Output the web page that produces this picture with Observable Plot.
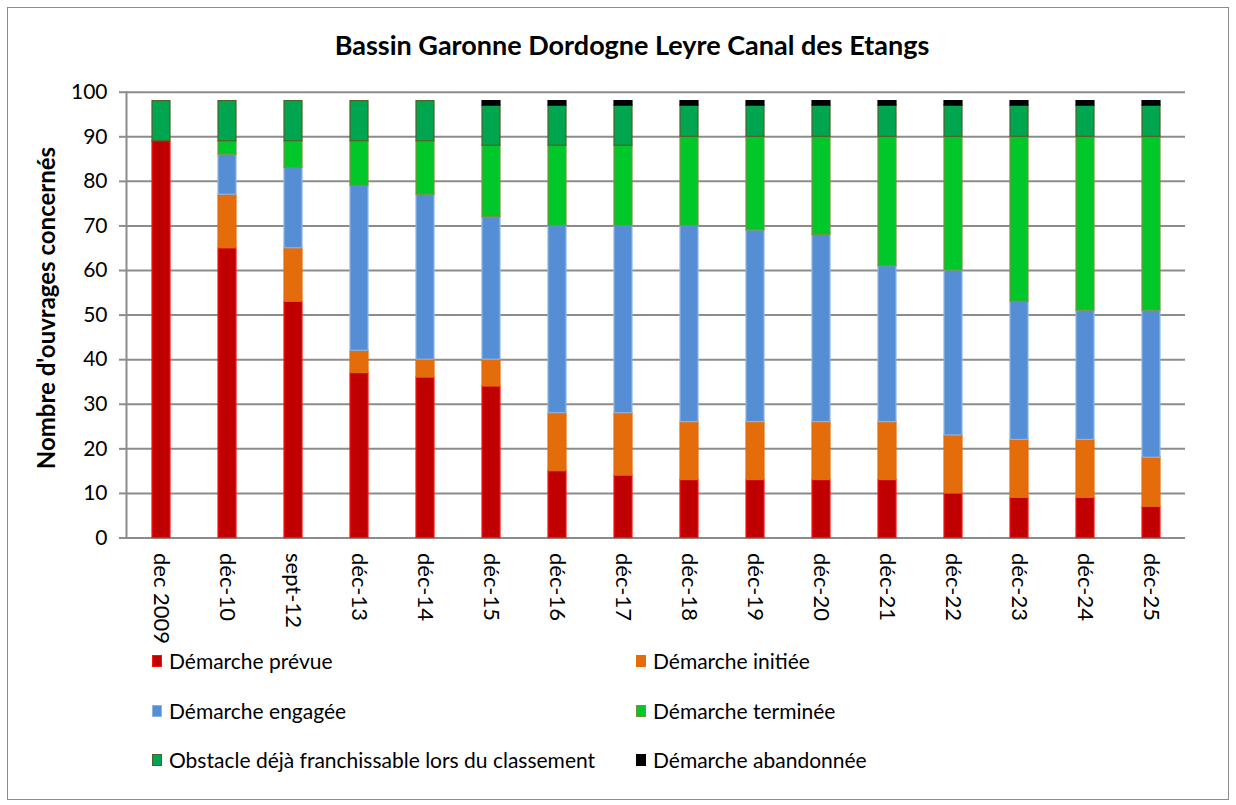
<!DOCTYPE html>
<html><head><meta charset="utf-8">
<script src="https://cdn.jsdelivr.net/npm/d3@7"></script>
<script src="https://cdn.jsdelivr.net/npm/@observablehq/plot@0.6"></script>
<style>
body{margin:0;background:#fff;font-family:Lato,"Open Sans",sans-serif;color:#000;}
#wrap{position:relative;width:1236px;height:805px;overflow:hidden;background:#fff;}
#border{position:absolute;left:7px;top:7px;width:1220px;height:791px;border:1.5px solid #8c8c8c;}
#title{position:absolute;left:0;width:1264px;top:29px;text-align:center;font-weight:bold;font-size:27px;line-height:32px;}
#ytitle{position:absolute;left:45px;top:308px;transform:translate(-50%,-50%) rotate(-90deg);white-space:nowrap;font-weight:bold;font-size:24px;}
#chart{position:absolute;left:0;top:70px;}
.leg{position:absolute;font-size:21px;line-height:24px;display:flex;align-items:center;white-space:nowrap;transform:translateY(-50%);}
.sw{width:10px;height:12px;margin-right:7px;box-sizing:border-box;border:1.5px solid;}
</style></head>
<body>
<div id="wrap">
  <div id="border"></div>
  <div id="title">Bassin Garonne Dordogne Leyre Canal des Etangs</div>
  <div id="ytitle">Nombre d'ouvrages concernés</div>
  <div id="chart"></div>
  <div id="legend"></div>
</div>
<script>
const categories = ["dec 2009","déc-10","sept-12","déc-13","déc-14","déc-15","déc-16","déc-17","déc-18","déc-19","déc-20","déc-21","déc-22","déc-23","déc-24","déc-25"];
const seriesNames = ["Démarche prévue","Démarche initiée","Démarche engagée","Démarche terminée","Obstacle déjà franchissable lors du classement","Démarche abandonnée"];
const prevue    = [89,65,53,37,36,34,15,14,13,13,13,13,10, 9, 9, 7];
const initiee   = [ 0,12,12, 5, 4, 6,13,14,13,13,13,13,13,13,13,11];
const engagee   = [ 0, 9,18,37,37,32,42,42,44,43,42,35,37,31,29,33];
const terminee  = [ 0, 3, 6,10,12,16,18,18,20,21,22,29,30,37,39,39];
const obstacle  = [ 9, 9, 9, 9, 9, 9, 9, 9, 7, 7, 7, 7, 7, 7, 7, 7];
const abandonnee= [ 0, 0, 0, 0, 0, 1, 1, 1, 1, 1, 1, 1, 1, 1, 1, 1];
const yTicks = [0,10,20,30,40,50,60,70,80,90,100];

const fills   = ["#C00000","#E46C0A","#558ED5","#00C82A","#00A550","#000000"];
const strokes = ["#FF1010","#E46C0A","#8DB4E2","#77933C","#4F6228","#000000"];

const seriesVals = [prevue, initiee, engagee, terminee, obstacle, abandonnee];
const rows = [];
seriesNames.forEach((s, i) => categories.forEach((c, j) => {
  if (seriesVals[i][j] > 0) rows.push({cat: c, series: s, value: seriesVals[i][j], fill: fills[i], stroke: strokes[i]});
}));

const chart = Plot.plot({
  width: 1236, height: 575,
  marginTop: 21.7, marginBottom: 107.5, marginLeft: 126, marginRight: 51,
  style: {fontFamily: "Lato, 'Open Sans', sans-serif", fontSize: "21px", color: "#000", background: "transparent"},
  x: {domain: categories, paddingInner: 0.73, paddingOuter: 0.365, label: null},
  y: {domain: [0, 100], label: null},
  color: {type: "identity"},
  marks: [
    Plot.gridY(yTicks, {stroke: "#8c8c8c", strokeOpacity: 1, strokeWidth: 2}),
    Plot.axisY(yTicks, {tickSize: 7, tickPadding: 12, stroke: "#8c8c8c", strokeWidth: 2, fill: "#000", fontSize: 21, label: null}),
    Plot.frame({anchor: "left", stroke: "#8c8c8c", strokeWidth: 2}),
    Plot.axisX({tickSize: 0, tickPadding: 15, tickRotate: 90, fill: "#000", fontSize: 22, label: null}),
    Plot.barY(rows, Plot.stackY({x: "cat", y: "value", fill: "fill", stroke: "stroke", strokeWidth: 1.2}))
  ]
});
document.getElementById("chart").appendChild(chart);

const legendPos = [[152,661],[636,661],[152,711],[636,711],[152,760],[636,760]];
const legend = document.getElementById("legend");
seriesNames.forEach((s, i) => {
  const d = document.createElement("div");
  d.className = "leg";
  d.style.left = legendPos[i][0] + "px";
  d.style.top = legendPos[i][1] + "px";
  d.innerHTML = `<span class="sw" style="background:${fills[i]};border-color:${strokes[i]}"></span><span>${s}</span>`;
  legend.appendChild(d);
});
</script>
</body></html>
